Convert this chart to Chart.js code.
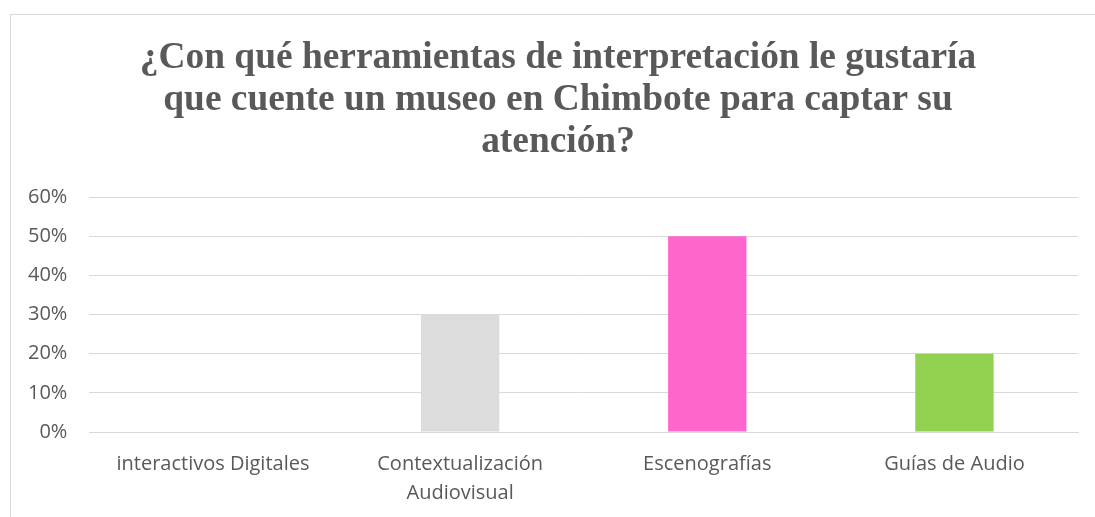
<!DOCTYPE html>
<html>
<head>
<meta charset="utf-8">
<script src="https://cdn.jsdelivr.net/npm/chart.js@4"></script>
<style>
  html, body { margin: 0; padding: 0; background: #fff; overflow: hidden; width: 1095px; height: 517px; }
  #frame { position: absolute; left: 10px; top: 14px; width: 1100px; height: 520px; border: 1px solid #d9d9d9; }
  #wrap { position: absolute; left: 0; top: 0; width: 1095px; height: 526px; }
</style>
</head>
<body>
<div id="frame"></div>
<div id="wrap"><canvas id="grafico"></canvas></div>
<script>
// datos
const categorias = ["interactivos Digitales", ["Contextualización", "Audiovisual"], "Escenografías", "Guías de Audio"];
const porcentajes = [0, 0.30, 0.50, 0.20];
const colores = ["#5B9BD5", "#DCDCDC", "#FF66CC", "#92D050"];
const tituloLineas = ["¿Con qué herramientas de interpretación le gustaría", "que cuente un museo en Chimbote para captar su", "atención?"];

const gris = "#595959";
const rejilla = "#d9d9d9";

// el titulo del original esta centrado en el marco, no en el area del grafico
const desplazarTitulo = {
    id: "desplazarTitulo",
    afterLayout(chart) {
        if (chart.titleBlock) {
            chart.titleBlock.left += 32;
        }
    }
};

new Chart(document.getElementById("grafico"), {
    type: "bar",
    data: {
        labels: categorias,
        datasets: [{
            data: porcentajes,
            backgroundColor: colores,
            borderWidth: 0,
            categoryPercentage: 1,
            barPercentage: 0.317
        }]
    },
    plugins: [desplazarTitulo],
    options: {
        responsive: true,
        maintainAspectRatio: false,
        animation: false,
        layout: {
            padding: { top: 37, left: 6, right: 17, bottom: 0 }
        },
        plugins: {
            legend: { display: false },
            tooltip: { enabled: false },
            title: {
                display: true,
                text: tituloLineas,
                color: gris,
                font: { family: "'Liberation Serif', 'Times New Roman', serif", size: 37.4, weight: "bold", lineHeight: 1.123 },
                padding: { top: 0, bottom: 34 }
            }
        },
        scales: {
            x: {
                grid: { display: false, drawTicks: false },
                border: { display: true, color: rejilla, width: 1 },
                ticks: {
                    color: gris,
                    maxRotation: 0,
                    autoSkip: false,
                    padding: 18,
                    font: { family: "'Open Sans', sans-serif", size: 20, lineHeight: 1.45 }
                }
            },
            y: {
                min: 0,
                max: 0.6,
                grid: { color: rejilla, lineWidth: 1, drawTicks: false },
                border: { display: false },
                ticks: {
                    stepSize: 0.1,
                    color: gris,
                    padding: 22,
                    font: { family: "'Open Sans', sans-serif", size: 20 },
                    callback: v => Math.round(v * 100) + "%"
                }
            }
        }
    }
});
</script>
</body>
</html>
